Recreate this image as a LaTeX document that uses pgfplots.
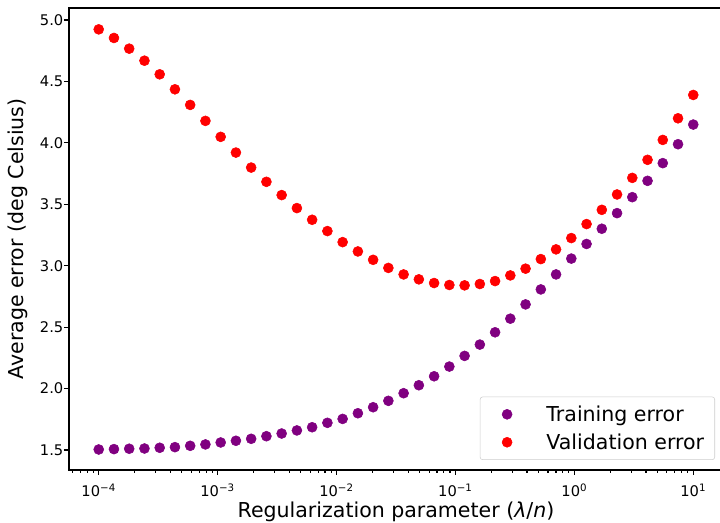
\documentclass[border=0pt]{standalone}
\usepackage{fontspec}
\setmainfont{DejaVu Sans}
\usepackage{pgfplots}
\usepackage{pgfplotstable}
\pgfplotsset{compat=1.18}
\definecolor{mplpurple}{RGB}{128,0,128}
\definecolor{mplred}{RGB}{255,0,0}
\pgfplotstableread{
x train val
1.0000e-4 1.504 4.924
1.3434e-4 1.507 4.854
1.8047e-4 1.510 4.767
2.4245e-4 1.512 4.669
3.2570e-4 1.518 4.558
4.3755e-4 1.523 4.436
5.8780e-4 1.534 4.309
7.8965e-4 1.545 4.179
1.0608e-3 1.561 4.049
1.4251e-3 1.575 3.921
1.9145e-3 1.591 3.799
2.5719e-3 1.612 3.683
3.4551e-3 1.634 3.575
4.6416e-3 1.659 3.469
6.2355e-3 1.685 3.374
8.3768e-3 1.721 3.282
1.1253e-2 1.753 3.192
1.5118e-2 1.799 3.116
2.0309e-2 1.848 3.048
2.7283e-2 1.900 2.982
3.6652e-2 1.962 2.929
4.9239e-2 2.027 2.889
6.6147e-2 2.100 2.859
8.8862e-2 2.179 2.843
1.1938e-1 2.266 2.840
1.6037e-1 2.358 2.851
2.1544e-1 2.458 2.875
2.8943e-1 2.569 2.921
3.8882e-1 2.685 2.976
5.2234e-1 2.807 3.054
7.0170e-1 2.929 3.133
9.4267e-1 3.058 3.225
1.2664 3.177 3.339
1.7013 3.301 3.455
2.2855 3.428 3.580
3.0703 3.558 3.715
4.1246 3.691 3.862
5.5410 3.835 4.024
7.4438 3.989 4.200
10.000 4.149 4.390
}\datatable
\begin{document}
\begin{tikzpicture}
\useasboundingbox (-51.75pt,-39.75pt) rectangle (488.25pt,352.5pt);
\begin{axis}[
  xmode=log,
  scale only axis,
  width=490.5pt, height=346.5pt,
  xmin=5.6234e-5, xmax=17.783,
  ymin=1.337, ymax=5.098,
  axis line style={line width=0.85pt, black},
  tick style={line width=0.85pt, black},
  tick align=outside,
  major tick length=3.75pt,
  minor tick length=2.2pt,
  xtick pos=bottom, ytick pos=left,
  xtick={1e-4,1e-3,1e-2,1e-1,1,10},
  xticklabels={10\textsuperscript{−4},10\textsuperscript{−3},10\textsuperscript{−2},10\textsuperscript{−1},10\textsuperscript{0},10\textsuperscript{1}},
  minor xtick={6e-5,7e-5,8e-5,9e-5,
    2e-4,3e-4,4e-4,5e-4,6e-4,7e-4,8e-4,9e-4,
    2e-3,3e-3,4e-3,5e-3,6e-3,7e-3,8e-3,9e-3,
    2e-2,3e-2,4e-2,5e-2,6e-2,7e-2,8e-2,9e-2,
    0.2,0.3,0.4,0.5,0.6,0.7,0.8,0.9,
    2,3,4,5,6,7,8,9},
  ytick={1.5,2.0,2.5,3.0,3.5,4.0,4.5,5.0},
  yticklabels={1.5,2.0,2.5,3.0,3.5,4.0,4.5,5.0},
  tick label style={font=\fontsize{11}{13}\selectfont},
  xticklabel style={anchor=base, yshift=-16.5pt},
  yticklabel style={anchor=east, xshift=3pt},
  every axis x label/.style={at={(axis description cs:0.5,0)}, anchor=base, yshift=-36pt, font=\fontsize{15.4}{18}\selectfont},
  every axis y label/.style={at={(axis description cs:-0.078,0.5)}, rotate=90, anchor=center, font=\fontsize{15.4}{18}\selectfont},
  xlabel={Regularization parameter (\textit{λ}/\textit{n})},
  ylabel={Average error (deg Celsius)},
  legend style={at={(1,0)}, anchor=south east, xshift=-6pt, yshift=7.5pt,
    font=\fontsize{15.4}{18}\selectfont, draw=black!20, rounded corners=2pt,
    inner xsep=6pt, inner ysep=4.5pt, row sep=3.75pt},
  legend cell align=left,
  legend image code/.code={\path[draw=none, fill=none] (0pt,0pt) rectangle (41.75pt,0pt); \path[#1, only marks] plot coordinates {(14.25pt,0pt)};},
]
\addplot[mplpurple, only marks, mark=*, mark size=3.75pt, mark options={draw=mplpurple, fill=mplpurple}] table[x=x, y=train] {\datatable};
\addlegendentry{Training error}
\addplot[mplred, only marks, mark=*, mark size=3.75pt, mark options={draw=mplred, fill=mplred}] table[x=x, y=val] {\datatable};
\addlegendentry{Validation error}
\end{axis}
\end{tikzpicture}
\end{document}
